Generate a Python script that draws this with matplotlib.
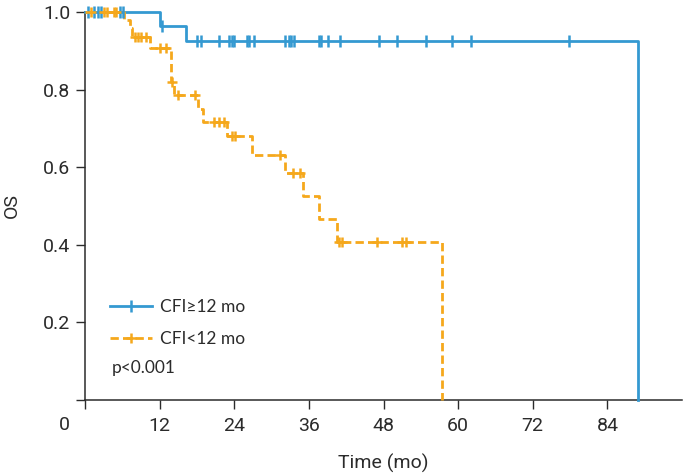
import numpy as np
import matplotlib
matplotlib.use("Agg")
import matplotlib.pyplot as plt
from matplotlib.lines import Line2D

# --- data (months, survival) ---
blue_event_t = [12.1, 16.2, 89.0]
blue_event_s = [0.963, 0.926, 0.0]
blue_cens_t = [0.5, 1.5, 2.1, 2.5, 5.6, 6.1, 12.4, 18.0, 18.6, 21.6, 23.2, 23.6, 24.0,
               26.0, 26.4, 27.2, 32.2, 32.8, 33.2, 33.6, 37.6, 37.9, 39.1, 41.0, 47.2,
               50.2, 54.8, 59.0, 62.1, 77.9]

org_event_t = [6.2, 7.2, 7.6, 10.4, 13.8, 14.3, 18.2, 19.0, 22.8, 26.8, 32.2, 35.0,
               37.7, 40.6, 57.4]
org_event_s = [0.979, 0.958, 0.936, 0.906, 0.82, 0.786, 0.75, 0.716, 0.68, 0.631,
               0.584, 0.527, 0.466, 0.408, 0.0]
org_cens_t = [1.0, 3.0, 3.6, 4.6, 5.0, 8.0, 8.5, 9.0, 9.8, 12.1, 13.1, 14.0, 15.0, 17.7,
              20.8, 21.5, 22.3, 23.6, 24.2, 31.4, 33.5, 34.6, 40.9, 41.3, 46.9, 50.9, 51.6]

xticks = [0, 12, 24, 36, 48, 60, 72, 84]
yticks = [0, 0.2, 0.4, 0.6, 0.8, 1.0]

BLUE = "#3499d1"
ORANGE = "#f5a81c"
INK = "#2b2b2b"
TICK_FONT = ["Roboto", "DejaVu Sans"]
LEG_FONT = ["Lato", "DejaVu Sans"]


def level_at(ev_t, ev_s, t):
    ev_t = np.asarray(ev_t); ev_s = np.asarray(ev_s)
    idx = np.searchsorted(ev_t, t, side="right")
    return np.where(idx == 0, 1.0, ev_s[np.maximum(idx - 1, 0)])


def km(ax, ev_t, ev_s, cens_t, color, ls, marker, ms):
    t = np.concatenate([[0.0], ev_t])
    s = np.concatenate([[1.0], ev_s])
    ax.step(t, s, where="post", color=color, lw=2, ls=ls, clip_on=False, zorder=3)
    ax.plot(cens_t, level_at(ev_t, ev_s, cens_t), ls="none", marker=marker, ms=ms,
            mew=1.8, color=color, clip_on=False, zorder=4)


fig = plt.figure(figsize=(6.85, 4.76), dpi=100)
ax = fig.add_axes([85 / 685, 76 / 476, 597 / 685, 388 / 476])

km(ax, blue_event_t, blue_event_s, blue_cens_t, BLUE, "-", "|", 8)
km(ax, org_event_t, org_event_s, org_cens_t, ORANGE, (0, (3, 1.5)), "+", 7)

ax.set_xlim(0, 96)
ax.set_ylim(0, 1.0)
for side in ("top", "right"):
    ax.spines[side].set_visible(False)
for side in ("left", "bottom"):
    ax.spines[side].set_color(INK)
    ax.spines[side].set_linewidth(1.1)

ax.set_xticks(xticks)
ax.set_xticklabels([""] + [str(v) for v in xticks[1:]])
ax.set_yticks(yticks)
ax.set_yticklabels([""] + [f"{v:.1f}" for v in yticks[1:]])
ax.tick_params(axis="both", direction="out", length=6.5, width=1, color=INK,
               labelcolor=INK, labelsize=14)
ax.tick_params(axis="y", pad=4)
ax.tick_params(axis="x", pad=6)
for lab in ax.get_xticklabels() + ax.get_yticklabels():
    lab.set_family(TICK_FONT)

# shared origin label at the corner
ax.annotate("0", xy=(0, 0), xycoords="data", xytext=(-15, -18), textcoords="offset points",
            ha="center", va="center", fontsize=14, color=INK, family=TICK_FONT)

ax.set_xlabel("Time (mo)", fontsize=14, color=INK, family=TICK_FONT)
ax.set_ylabel("OS", fontsize=14, color=INK, family=TICK_FONT)
ax.xaxis.set_label_coords(0.5, -0.138)
ax.yaxis.set_label_coords(-0.108, 0.5)

handles = [
    Line2D([], [], color=BLUE, lw=2, marker="|", ms=8, mew=1.8),
    Line2D([], [], color=ORANGE, lw=2, ls=(0, (3, 1.5)), marker="+", ms=7, mew=1.8),
]
leg = ax.legend(handles, ["CFI\u226512 mo", "CFI<12 mo"], loc="lower left",
                bbox_to_anchor=(0.042, 0.136), frameon=False, borderpad=0,
                borderaxespad=0, handlelength=2.4, handletextpad=0.5, labelspacing=0.95,
                prop={"family": LEG_FONT, "size": 12.5})
for txt in leg.get_texts():
    txt.set_color(INK)

ax.text(0.045, 0.082, "p<0.001", transform=ax.transAxes, ha="left", va="center",
        fontsize=12.5, color=INK, family=LEG_FONT)

fig.savefig("out.png", dpi=100)
